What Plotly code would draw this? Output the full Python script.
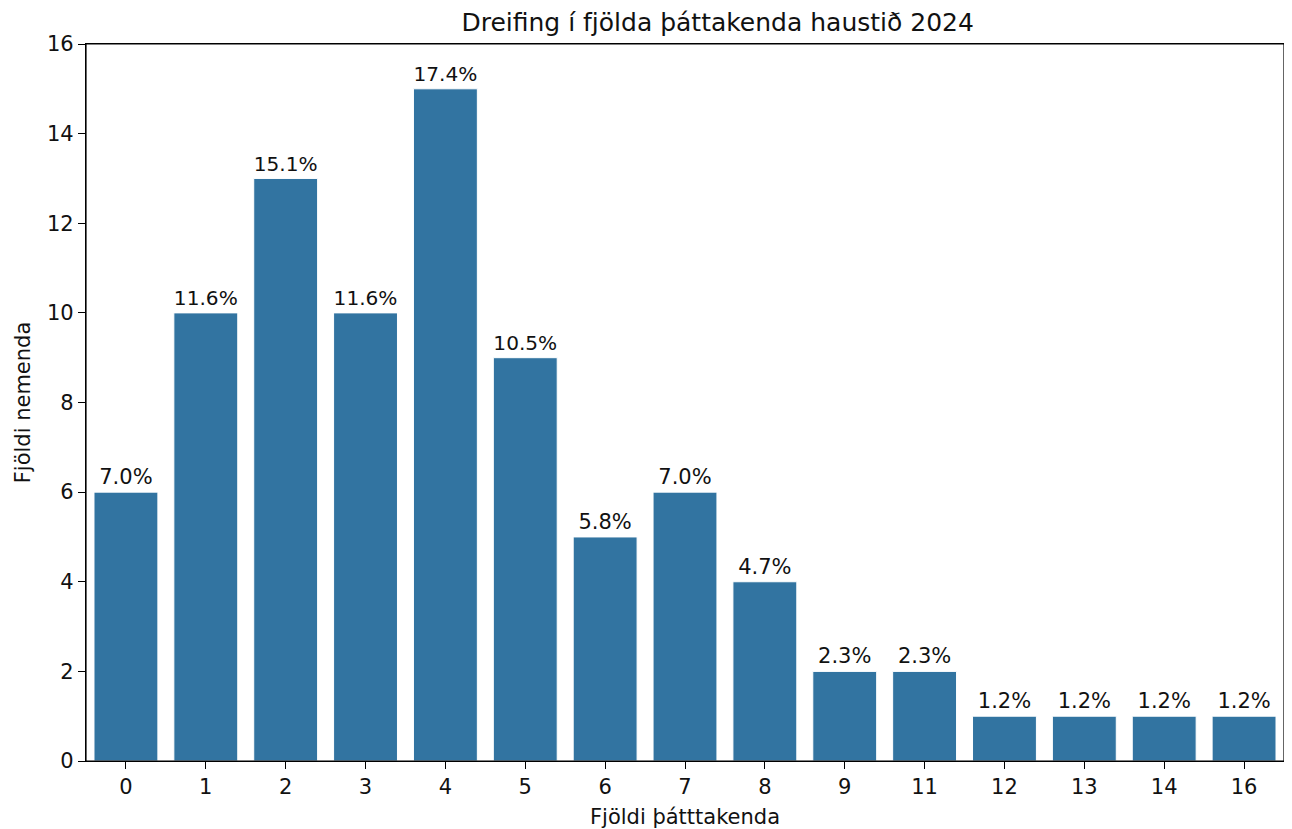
import plotly.graph_objects as go

categories = ["0", "1", "2", "3", "4", "5", "6", "7", "8", "9", "11", "12", "13", "14", "16"]
counts = [6, 10, 13, 10, 15, 9, 5, 6, 4, 2, 2, 1, 1, 1, 1]
y_ticks = [0, 2, 4, 6, 8, 10, 12, 14, 16]

total = sum(counts)
labels = [f"{c / total * 100:.1f}%" for c in counts]

font_family = "DejaVu Sans"
fs = 21
txt_color = "#111111"
W, H = 1284, 821  # page adds an 8px body margin on top/left

fig = go.Figure(
    go.Bar(
        x=categories,
        y=counts,
        text=labels,
        textposition="outside",
        textfont=dict(family=font_family, size=fs, color=txt_color),
        cliponaxis=False,
        marker=dict(color="#3274a1", line=dict(color="white", width=1)),
        width=0.8,
    )
)

fig.update_layout(
    width=W,
    height=H,
    margin=dict(l=78, r=8, t=36, b=68, autoexpand=False),
    plot_bgcolor="white",
    paper_bgcolor="white",
    font=dict(family=font_family, size=fs, color=txt_color),
    title=dict(
        text="Dreifing í fjölda þáttakenda haustið 2024",
        x=(78 + (W - 8)) / 2 / W,
        xref="paper",
        xanchor="center",
        y=1 - 14 / H,
        yanchor="middle",
        font=dict(family=font_family, size=25, color=txt_color),
    ),
    showlegend=False,
    bargap=0.2,
    shapes=[
        dict(
            type="rect", xref="paper", yref="paper", x0=0, x1=1, y0=0, y1=1,
            line=dict(color="black", width=1.2), fillcolor="rgba(0,0,0,0)", layer="above",
        )
    ],
)

fig.update_xaxes(
    type="category",
    automargin=False,
    range=[-0.5, len(categories) - 0.5],
    showline=True,
    linecolor="black",
    linewidth=1.2,
    mirror=True,
    ticks="outside",
    ticklen=7,
    tickcolor="black",
    showgrid=False,
    title=dict(text="Fjöldi þátttakenda", font=dict(size=fs), standoff=11),
)

fig.update_yaxes(
    range=[0, 16],
    automargin=False,
    tickvals=y_ticks,
    showline=True,
    linecolor="black",
    linewidth=1.2,
    mirror=True,
    ticks="outside",
    ticklen=7,
    tickcolor="black",
    showgrid=False,
    zeroline=False,
    title=dict(text="Fjöldi nemenda", font=dict(size=fs), standoff=10),
)

fig.write_html("out.html")
